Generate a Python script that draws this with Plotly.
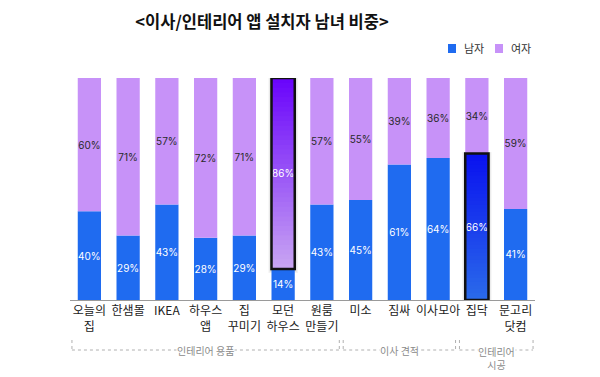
import plotly.graph_objects as go

# ---- data ----
categories = ["오늘의<br>집", "한샘몰", "IKEA", "하우스<br>앱", "집<br>꾸미기", "모던<br>하우스",
              "원룸<br>만들기", "미소", "짐싸", "이사모아", "집닥", "문고리<br>닷컴"]
male = [40, 29, 43, 28, 29, 14, 43, 45, 61, 64, 66, 41]
female = [60, 71, 57, 72, 71, 86, 57, 55, 39, 36, 34, 59]
series_names = ["남자", "여자"]
groups = ["인테리어 용품", "이사 견적", "인테리어<br>시공"]
group_spans = [(0, 6), (7, 9), (10, 11)]
highlight_female = ["모던<br>하우스"]
highlight_male = ["집닥"]

BLUE = "#1f6bf0"
PURPLE = "#c792f8"
FONT = "Noto Sans CJK KR"
W = 0.6
N = 40
L, R, T, B = 70, 65, 78, 77
PW, PH = 600 - L - R, 377 - T - B


def px_x(px):
    return (px - L) / PW


def px_y(py):
    return (377 - B - py) / PH


def lerp(c1, c2, t):
    a = [int(c1[i:i + 2], 16) for i in (1, 3, 5)]
    b = [int(c2[i:i + 2], 16) for i in (1, 3, 5)]
    return "rgb(%d,%d,%d)" % tuple(round(a[k] + (b[k] - a[k]) * t) for k in range(3))


fig = go.Figure()


def gradient(cat, base, height, top_col, bot_col):
    # soft shadow
    for k, (w, a) in enumerate([(W + 0.16, 0.05), (W + 0.1, 0.07), (W + 0.05, 0.09)]):
        fig.add_trace(go.Bar(x=[cat], y=[height + 2.5 - k * 0.8], base=[base - 1.8 + k * 0.5], width=w,
                             marker=dict(color="rgba(0,0,0,%s)" % a, line_width=0),
                             showlegend=False, hoverinfo="skip"))
    step = height / N
    bases = [base + step * j for j in range(N)]
    fig.add_trace(go.Bar(x=[cat] * N, y=[base + height - b for b in bases], base=bases, width=W,
                         marker=dict(color=[lerp(bot_col, top_col, j / (N - 1)) for j in range(N)], line_width=0),
                         showlegend=False, hoverinfo="skip"))


for cat in highlight_female:
    i = categories.index(cat)
    gradient(cat, male[i], female[i], "#6a05fb", "#c8a4f2")
for cat in highlight_male:
    i = categories.index(cat)
    gradient(cat, 0, male[i], "#0a12ef", "#2a6aea")

male_colors = ["rgba(0,0,0,0)" if c in highlight_male else BLUE for c in categories]
female_colors = ["rgba(0,0,0,0)" if c in highlight_female else PURPLE for c in categories]
female_text_colors = ["#ffffff" if c in highlight_female else "#2a2a2a" for c in categories]

fig.add_trace(go.Bar(name=series_names[0], x=categories, y=male, base=[0] * len(male), width=W,
                     marker=dict(color=male_colors, line_width=0), showlegend=False,
                     text=[f"{v}%" for v in male], textposition="inside", insidetextanchor="middle",
                     textangle=0, constraintext="none",
                     textfont=dict(family="Inter", size=10, color="#ffffff")))
fig.add_trace(go.Bar(name=series_names[1], x=categories, y=female, base=male, width=W,
                     marker=dict(color=female_colors, line_width=0), showlegend=False,
                     text=[f"{v}%" for v in female], textposition="inside", insidetextanchor="middle",
                     textangle=0, constraintext="none",
                     textfont=dict(family="Inter", size=10, color=female_text_colors)))

# borders
for cat in highlight_female:
    i = categories.index(cat)
    fig.add_trace(go.Bar(x=[cat], y=[female[i]], base=[male[i]], width=W,
                         marker=dict(color="rgba(0,0,0,0)", line=dict(color="#111", width=2.5)),
                         showlegend=False, hoverinfo="skip"))
for cat in highlight_male:
    i = categories.index(cat)
    fig.add_trace(go.Bar(x=[cat], y=[male[i]], base=[0], width=W,
                         marker=dict(color="rgba(0,0,0,0)", line=dict(color="#111", width=2.5)),
                         showlegend=False, hoverinfo="skip"))

shapes = []
annotations = []

# legend (manual, compact)
for name, col, sx in zip(series_names, [BLUE, PURPLE], [448, 495]):
    shapes.append(dict(type="rect", xref="paper", yref="paper", x0=px_x(sx), x1=px_x(sx + 8),
                       y0=px_y(53), y1=px_y(44), fillcolor=col, line_width=0))
    annotations.append(dict(text=name, xref="paper", yref="paper", x=px_x(sx + 14), y=px_y(48.5),
                            xanchor="left", yanchor="middle", showarrow=False,
                            font=dict(family=FONT, size=11, color="#333")))

# group brackets
y_line = px_y(350)
y_top = px_y(340)
dash = dict(color="#b0b0b0", width=1, dash="3px,3px")
for (a, b), name in zip(group_spans, groups):
    x0, x1 = a - 0.45, b + 0.45
    shapes.append(dict(type="line", xref="x", yref="paper", x0=x0, x1=x1, y0=y_line, y1=y_line, line=dash))
    shapes.append(dict(type="line", xref="x", yref="paper", x0=x0, x1=x0, y0=y_top, y1=y_line, line=dash))
    shapes.append(dict(type="line", xref="x", yref="paper", x0=x1, x1=x1, y0=y_top, y1=y_line, line=dash))
    multi = "<br>" in name
    annotations.append(dict(text=name, xref="x", yref="paper", x=(a + b) / 2, y=y_line,
                            yanchor="top" if multi else "middle", yshift=7 if multi else 0,
                            showarrow=False, bgcolor="white", borderpad=0,
                            font=dict(family=FONT, size=10, color="#8a8a8a")))

fig.update_layout(
    width=600, height=377,
    margin=dict(l=L, r=R, t=T, b=B, autoexpand=False),
    paper_bgcolor="white", plot_bgcolor="white",
    barmode="overlay", showlegend=False,
    title=dict(text="<b>&lt;이사/인테리어 앱 설치자 남녀 비중&gt;</b>", x=262 / 600, xanchor="center",
               y=1 - 22 / 377, yanchor="middle", font=dict(family=FONT, size=16.5, color="#111")),
    xaxis=dict(type="category", categoryorder="array", categoryarray=categories,
               range=[-0.5, len(categories) - 0.5], showline=True, linecolor="#9a9a9a",
               linewidth=1, showgrid=False, ticks="", tickangle=0, automargin=False,
               tickfont=dict(family=FONT, size=12, color="#222")),
    yaxis=dict(range=[0, 100], visible=False, showgrid=False),
    shapes=shapes, annotations=annotations,
    uniformtext=dict(minsize=10, mode="show"),
)

fig.write_html("out.html", config={"displayModeBar": False},
               post_script="document.body.style.margin='0';document.body.style.overflow='hidden';")
